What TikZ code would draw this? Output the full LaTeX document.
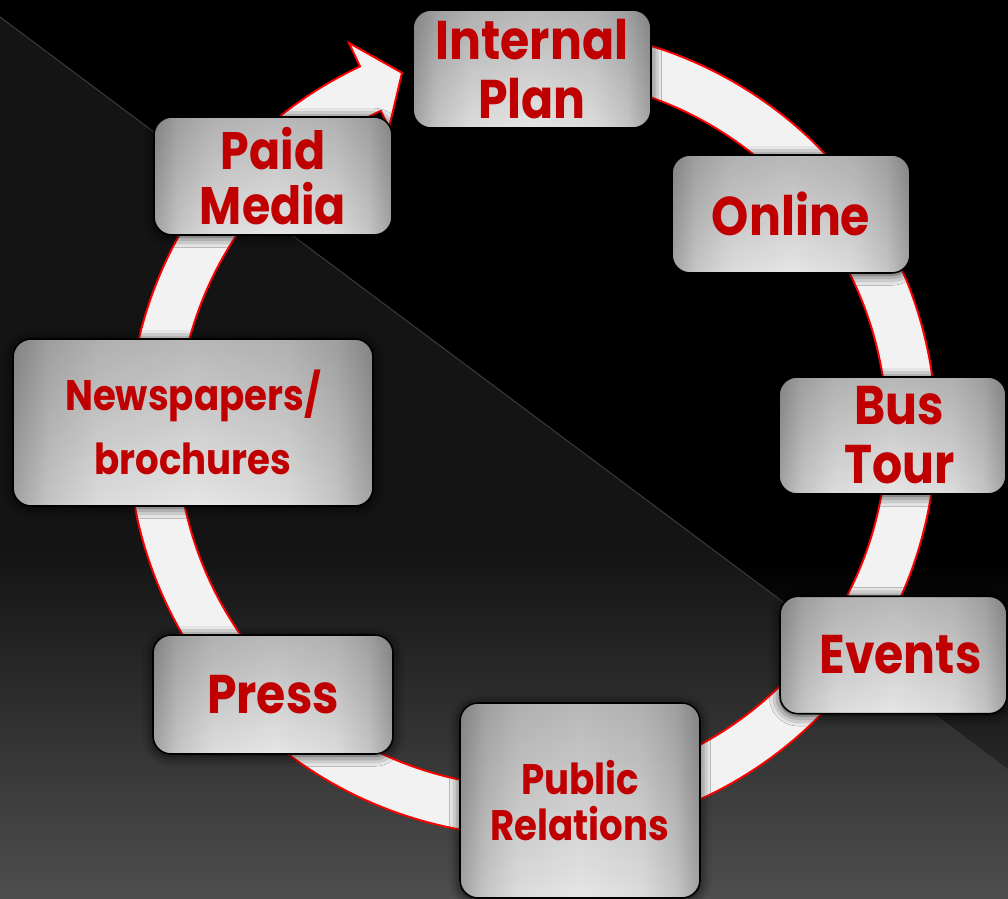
\documentclass[tikz,border=0pt]{standalone}
\usepackage{fontspec}
\setmainfont{Poppins}[FakeStretch=0.87]
\usetikzlibrary{shadows.blur,fadings}

\definecolor{labelred}{HTML}{C00000}
\definecolor{ringfill}{HTML}{F2F2F2}
\definecolor{ringedge}{HTML}{FF0000}
\definecolor{boxedge}{HTML}{A2A2A2}
\definecolor{boxnear}{HTML}{C6C6C6}
\definecolor{boxinner}{HTML}{DCDCDC}
\definecolor{boxmid}{HTML}{E6E6E6}
\definecolor{bgleft}{HTML}{141414}
\definecolor{bgbottom}{HTML}{4E4E4E}
\definecolor{bgcorner}{HTML}{282828}
\definecolor{seam}{HTML}{3A3A3A}

% side-to-side sheen of the boxes: dark rims, broad light middle
\pgfdeclarehorizontalshading{boxsheen}{100bp}{color(0bp)=(boxedge); color(25bp)=(boxedge);
  color(30bp)=(boxnear); color(37bp)=(boxinner); color(50bp)=(boxmid);
  color(63bp)=(boxinner); color(70bp)=(boxnear); color(75bp)=(boxedge); color(100bp)=(boxedge)}
% darker band across the top of every box
\tikzfading[name=topshade, top color=transparent!80, bottom color=transparent!100]

\tikzset{
  stage/.style={rounded corners=0.36cm, draw=black, line width=0.9pt,
    shading=boxsheen, shading angle=0,
    blur shadow={shadow xshift=0pt, shadow yshift=-1pt,
      shadow blur radius=6pt, shadow opacity=85},
    path picture={\fill[black, path fading=topshade]
      (path picture bounding box.south west) rectangle
      (path picture bounding box.north east);},
    text=labelred, align=center, inner sep=0pt},
  std/.style={stage, minimum width=4.76cm, minimum height=2.36cm},
  narrow/.style={stage, minimum width=4.54cm, minimum height=2.35cm},
  bigtext/.style={font=\fontsize{31}{33.5}\selectfont\bfseries},
  midtext/.style={font=\fontsize{30}{31.2}\selectfont\bfseries},
  smalltext/.style={font=\fontsize{24.3}{36.8}\selectfont\bfseries},
  prtext/.style={font=\fontsize{24.3}{26}\selectfont\bfseries},
  ring/.style={draw=ringedge, fill=ringfill, line width=1.1pt, line join=miter}
}

\begin{document}
\begin{tikzpicture}[x=0.02cm, y=0.02cm]
  \useasboundingbox (0,0) rectangle (1008,899);
  \clip (0,0) rectangle (1008,899);

  % background: flat dark grey, brightening towards the bottom
  \fill[bgleft] (0,0) rectangle (1008,899);
  \shade[top color=bgleft, bottom color=bgbottom] (0,0) rectangle (1008,349);
  % black upper-right triangle
  \fill[black] (0,882) -- (0,899) -- (1008,899) -- (1008,129) -- cycle;
  \shade[top color=black, bottom color=bgcorner] (727,339) -- (1008,339) -- (1008,129) -- cycle;
  \draw[seam, line width=0.6pt] (0,882) -- (1008,129);

  % circular arrow
  \begin{scope}[shift={(532,467)}]
    \path[ring] (115.2:404) arc[start angle=115.2, end angle=445, radius=404]
      -- (445:355) arc[start angle=445, end angle=115.2, radius=355]
      -- (115.2:336) -- (109.9:382) -- (115.2:430) -- cycle;
  \end{scope}

  % stages around the cycle
  \node[std, bigtext] (plan) at (532,830) {Internal\\Plan};
  \node[std, bigtext] (online) at (791,685) {Online};
  \node[narrow, bigtext, minimum height=2.34cm] (bus) at (892.5,463.5)
    {\hspace*{0.28cm}Bus\\\hspace*{0.28cm}Tour};
  \node[narrow, bigtext] (events) at (893.5,244) {\hspace*{0.28cm}Events};
  \node[stage, prtext, minimum width=4.8cm, minimum height=3.9cm] (pr) at (580,98.5)
    {Public\\Relations};
  \node[stage, bigtext, minimum width=4.8cm, minimum height=2.38cm] (press) at (273,204.5) {Press};
  \node[stage, smalltext, minimum width=7.2cm, minimum height=3.34cm] (news) at (193,476.5)
    {Newspapers/\\brochures};
  \node[std, midtext] (paid) at (273,723) {Paid\\Media};
\end{tikzpicture}
\end{document}
